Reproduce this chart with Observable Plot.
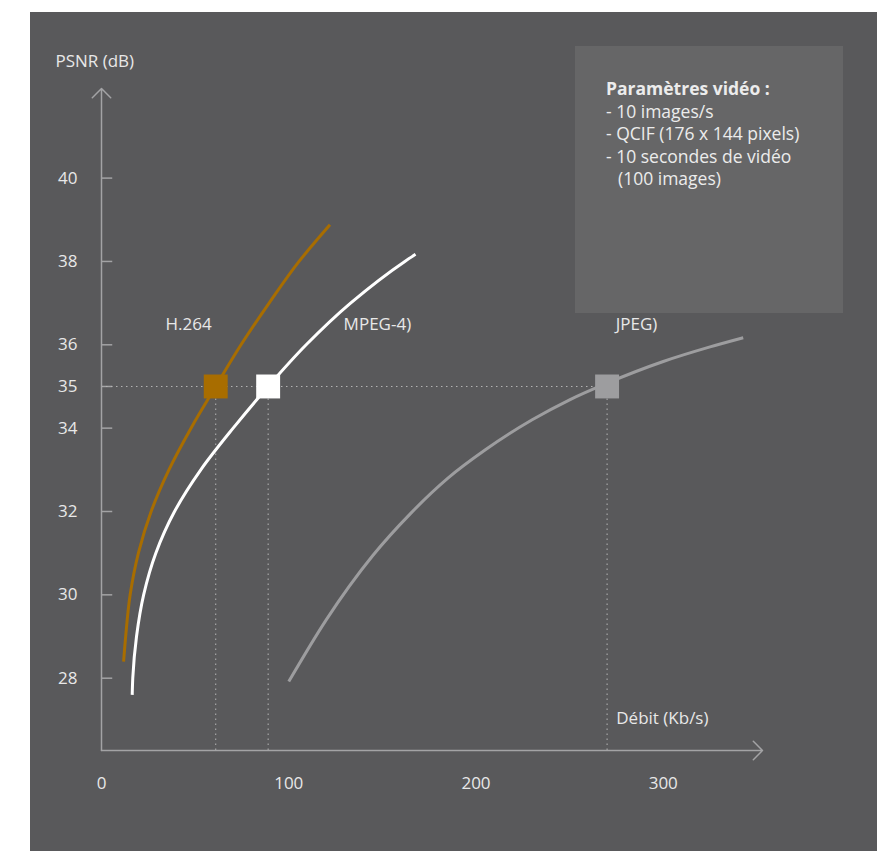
<!DOCTYPE html>
<html>
<head>
<meta charset="utf-8">
<script src="https://cdn.jsdelivr.net/npm/d3@7"></script>
<script src="https://cdn.jsdelivr.net/npm/@observablehq/plot@0.6"></script>
<style>
  body { margin: 0; background: #ffffff; }
  #wrap { position: relative; width: 883px; height: 851px; overflow: hidden; font-family: "Open Sans", Lato, sans-serif; }
  #bg { position: absolute; left: 30px; top: 12px; width: 847px; height: 839px; background: #59595b; }
  #box { position: absolute; left: 575px; top: 46px; width: 268px; height: 267px; background: #666667;
         box-sizing: border-box; padding: 31px 0 0 31px; color: #ececec; font-size: 17.5px; line-height: 22.5px; white-space: nowrap; }
  #box .t { font-weight: bold; }
  #box .ind { padding-left: 12px; }
  #chart { position: absolute; left: 0; top: 0; }
</style>
</head>
<body>
<div id="wrap">
  <div id="bg"></div>
  <div id="box">
    <div class="t">Paramètres vidéo :</div>
    <div>- 10 images/s</div>
    <div>- QCIF (176 x 144 pixels)</div>
    <div>- 10 secondes de vidéo</div>
    <div class="ind">(100 images)</div>
  </div>
  <div id="chart"></div>
</div>
<script>
// ---- data ----
const yTicks = [28, 30, 32, 34, 35, 36, 38, 40];
const xTicks = [0, 100, 200, 300];

// H.264 : débit (Kb/s) et PSNR (dB)
const h264X = [11.8, 12.9, 15.3, 19.7, 26.5, 36, 47.8, 61, 74.5, 89.5, 105.5, 122];
const h264Y = [28.4, 29, 30, 31, 32, 33, 34, 35, 36, 37, 38, 38.88];

// MPEG-4
const mpeg4X = [16.4, 16.7, 18.7, 22.5, 29, 39, 53, 70.3, 89, 109.3, 133, 162, 167.7];
const mpeg4Y = [27.6, 28, 29, 30, 31, 32, 33, 34, 35, 36, 37, 38, 38.17];

// JPEG
const jpegX = [100, 120, 145, 165, 185, 205, 230, 250, 270, 300, 325, 342.7];
const jpegY = [27.92, 29.4, 30.95, 31.95, 32.8, 33.48, 34.2, 34.68, 35.08, 35.6, 35.95, 36.17];

const refPSNR = 35;
const markerX = [61, 89, 270];   // débit à 35 dB : H.264, MPEG-4, JPEG
const codecNames = ["H.264", "MPEG-4)", "JPEG)"];

// ---- config ----
const xDomain = [0, 353];
const yDomain = [26.265, 42.15];
const axisColor = "#a3a3a5";
const textColor = "#e8e8e8";
const font = "'Open Sans', Lato, sans-serif";
const codecs = [
  {name: codecNames[2], xs: jpegX, ys: jpegY, color: "#9d9d9f", mx: markerX[2], lx: 274.6, curve: "monotone-x"},
  {name: codecNames[1], xs: mpeg4X, ys: mpeg4Y, color: "#ffffff", mx: markerX[1], lx: 129.3, curve: "monotone-y"},
  {name: codecNames[0], xs: h264X, ys: h264Y, color: "#a86d00", mx: markerX[0], lx: 34.2, curve: "monotone-y"}
];
const labelY = 36.49;

const marks = [];
marks.push(Plot.ruleY(yTicks, {x1: 0, x2: 6, stroke: axisColor, strokeWidth: 1.5}));
marks.push(Plot.ruleY([refPSNR], {x1: 0, x2: d3.max(markerX), stroke: "#b5b5b5", strokeWidth: 1, strokeDasharray: "1.5,3.5"}));
marks.push(Plot.ruleX(markerX, {y1: yDomain[0], y2: refPSNR, stroke: "#b5b5b5", strokeWidth: 1, strokeDasharray: "1.5,3.5"}));
marks.push(Plot.arrow([
  {x1: 0, y1: yDomain[0], x2: 0, y2: yDomain[1]},
  {x1: 0, y1: yDomain[0], x2: xDomain[1], y2: yDomain[0]}
], {x1: "x1", y1: "y1", x2: "x2", y2: "y2", stroke: axisColor, strokeWidth: 1.5, headLength: 13, headAngle: 90}));
marks.push(Plot.axisY({ticks: yTicks, tickSize: 0, tickPadding: 24, label: null, fontSize: 17}));
marks.push(Plot.axisX({ticks: xTicks, tickSize: 0, tickPadding: 26, label: null, fontSize: 17}));

for (const c of codecs) {
  const rows = c.xs.map((x, i) => ({x, y: c.ys[i]}));
  marks.push(Plot.line(rows, {x: "x", y: "y", stroke: c.color, strokeWidth: 3, curve: c.curve, strokeLinecap: "butt"}));
}
for (const c of codecs) {
  marks.push(Plot.dot([{x: c.mx, y: refPSNR}], {x: "x", y: "y", symbol: "square", r: 13.5, fill: c.color, stroke: "none"}));
  marks.push(Plot.text([{x: c.lx, y: labelY, t: c.name}], {x: "x", y: "y", text: "t", textAnchor: "start", fill: textColor, fontSize: 17}));
}
marks.push(Plot.text([{x: -24.6, y: 42.8, t: "PSNR (dB)"}], {x: "x", y: "y", text: "t", textAnchor: "start", fill: textColor, fontSize: 17}));
marks.push(Plot.text([{x: 274.9, y: 27.03, t: "Débit (Kb/s)"}], {x: "x", y: "y", text: "t", textAnchor: "start", fill: textColor, fontSize: 17}));

const chart = Plot.plot({
  width: 883,
  height: 851,
  marginLeft: 101,
  marginRight: 121,
  marginTop: 88,
  marginBottom: 101,
  style: {background: "transparent", color: textColor, fontFamily: font, fontSize: "17px", overflow: "visible"},
  x: {domain: xDomain},
  y: {domain: yDomain},
  marks
});
document.getElementById("chart").appendChild(chart);
</script>
</body>
</html>
